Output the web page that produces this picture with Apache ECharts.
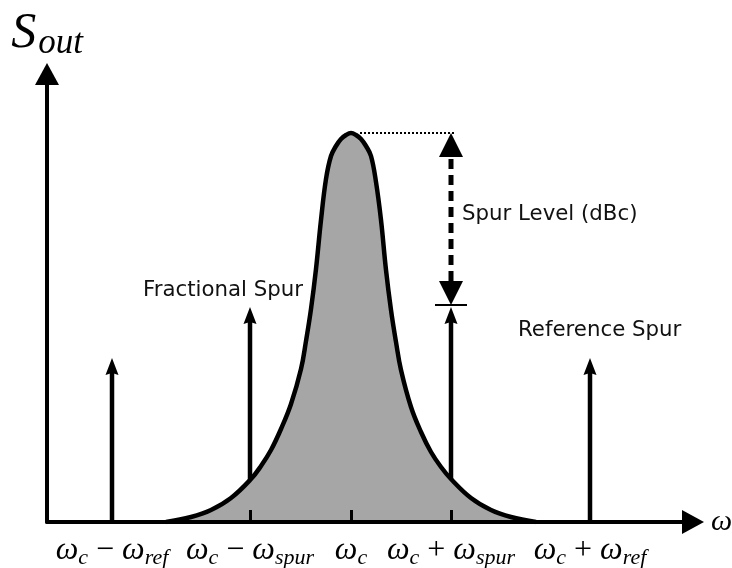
<!DOCTYPE html>
<html><head><meta charset="utf-8">
<script src="https://cdn.jsdelivr.net/npm/echarts@6/dist/echarts.min.js"></script>
<style>html,body{margin:0;padding:0;background:#fff}#c{width:732px;height:568px}</style>
</head><body><div id="c"></div>
<script>
// Carrier (phase-noise skirt) curve: offset from carrier vs. level
const curveX = [-185,-160,-140,-120,-100,-90,-80,-70,-60,-50,-45,-40,-35,-30,-25,-20,-15,-10,-5,0,5,10,15,20,25,30,35,40,45,50,60,70,80,90,100,120,140,160,185];
const curveY = [0,5,12,24,43,56,72,93,118,153,181,213,253,302,343,366,376,383,387,389,387,383,376,366,340,302,252,212,180,152,115,90,70,55,43,24,12,5,0];
// Spur impulses
const spurX = [-239, -101, 100, 239];
const spurH = [164, 215, 215, 164];
// Spur level annotation: [x, carrier peak level, spur level, peak x]
const levelMark = [[100, 389, 217, 0]];
// Tick positions and labels
const tickValues = [-239, -101, 0, 100, 239];
const tickLabels = [
  '{w|ω}{s|c}{o| − }{w|ω}{s|ref}',
  '{w|ω}{s|c}{o| − }{w|ω}{s|spur}',
  '{w|ω}{s|c}',
  '{w|ω}{s|c}{o| + }{w|ω}{s|spur}',
  '{w|ω}{s|c}{o| + }{w|ω}{s|ref}'
];
const annotations = ['Fractional Spur', 'Spur Level (dBc)', 'Reference Spur'];

const chart = echarts.init(document.getElementById('c'), null, {renderer: 'canvas'});
const mathFont = 'Liberation Serif';
const rich = {
  w: {fontFamily: mathFont, fontStyle: 'italic', fontSize: 32, color: '#000'},
  s: {fontFamily: mathFont, fontStyle: 'italic', fontSize: 22, color: '#000', padding: [14, 0, 0, 0]},
  o: {fontFamily: mathFont, fontSize: 32, color: '#000'}
};
const textStyle = {fontFamily: 'DejaVu Sans', fontSize: 21.3, fill: '#111'};

chart.setOption({
  animation: false,
  backgroundColor: '#fff',
  grid: {left: 47, right: 39, top: 74, bottom: 46, containLabel: false, outerBoundsMode: 'none'},
  xAxis: {
    type: 'value', min: -304, max: 342, z: 5,
    axisLine: {onZero: false, lineStyle: {color: '#000', width: 4}, symbol: ['none', 'triangle'], symbolSize: [24, 22]},
    axisTick: {show: true, inside: true, length: 12, lineStyle: {color: '#000', width: 3}, customValues: tickValues},
    axisLabel: {customValues: tickValues, margin: 11, formatter: (v) => tickLabels[tickValues.indexOf(v)], rich: rich},
    splitLine: {show: false},
    name: '{n|ω}', nameLocation: 'end', nameGap: 18,
    nameTextStyle: {rich: {n: {fontFamily: mathFont, fontStyle: 'italic', fontSize: 30, color: '#000'}}}
  },
  yAxis: {
    type: 'value', min: 0, max: 448, z: 5,
    axisLine: {show: true, onZero: false, lineStyle: {color: '#000', width: 4}, symbol: ['none', 'triangle'], symbolSize: [24, 22]},
    axisTick: {show: false}, axisLabel: {show: false}, splitLine: {show: false},
    name: '{S|S}{t|out}', nameLocation: 'end', nameGap: 13,
    nameTextStyle: {rich: {
      S: {fontFamily: mathFont, fontStyle: 'italic', fontSize: 50, color: '#000'},
      t: {fontFamily: mathFont, fontStyle: 'italic', fontSize: 35, color: '#000', padding: [20, 0, 0, 2]}
    }}
  },
  series: [
    {
      type: 'custom', z: 1,
      data: spurX.map((x, i) => [x, spurH[i]]),
      renderItem: (params, api) => {
        const base = api.coord([api.value(0), 0]);
        const tip = api.coord([api.value(0), api.value(1)]);
        const hw = 6.5, hh = 17;
        return {type: 'group', children: [
          {type: 'line', shape: {x1: base[0], y1: base[1], x2: tip[0], y2: tip[1] + hh - 2}, style: {stroke: '#000', lineWidth: 4.5}},
          {type: 'polygon', shape: {points: [[tip[0], tip[1]], [tip[0] - hw, tip[1] + hh], [tip[0], tip[1] + hh - 2], [tip[0] + hw, tip[1] + hh]]}, style: {fill: '#000'}}
        ]};
      }
    },
    {
      type: 'line', z: 2,
      data: curveX.map((x, i) => [x, curveY[i]]),
      smooth: 0.4,
      showSymbol: false, symbol: 'none',
      lineStyle: {color: '#000', width: 4.5},
      areaStyle: {color: '#a6a6a6', opacity: 1}
    },
    {
      type: 'custom', z: 3,
      data: levelMark,
      renderItem: (params, api) => {
        const top = api.coord([api.value(0), api.value(1)]);
        const bot = api.coord([api.value(0), api.value(2)]);
        const pk = api.coord([api.value(3), api.value(1)]);
        const w = 12, h = 24;
        return {type: 'group', children: [
          {type: 'line', shape: {x1: pk[0] + 9, y1: top[1], x2: top[0] + 4, y2: top[1]}, style: {stroke: '#000', lineWidth: 2, lineDash: [2, 2]}},
          {type: 'polygon', shape: {points: [[top[0], top[1]], [top[0] - w, top[1] + h], [top[0] + w, top[1] + h]]}, style: {fill: '#000'}},
          {type: 'line', shape: {x1: top[0], y1: top[1] + h + 2, x2: bot[0], y2: bot[1] - h}, style: {stroke: '#000', lineWidth: 5, lineDash: [10, 6]}},
          {type: 'polygon', shape: {points: [[bot[0], bot[1]], [bot[0] - w, bot[1] - h], [bot[0] + w, bot[1] - h]]}, style: {fill: '#000'}},
          {type: 'line', shape: {x1: bot[0] - 16, y1: bot[1], x2: bot[0] + 16, y2: bot[1]}, style: {stroke: '#000', lineWidth: 2}}
        ]};
      }
    }
  ],
  graphic: [
    {type: 'text', left: 143, top: 280, style: Object.assign({text: annotations[0]}, textStyle)},
    {type: 'text', left: 462, top: 204, style: Object.assign({text: annotations[1]}, textStyle)},
    {type: 'text', left: 518, top: 320, style: Object.assign({text: annotations[2]}, textStyle)}
  ]
});
</script>
</body></html>
